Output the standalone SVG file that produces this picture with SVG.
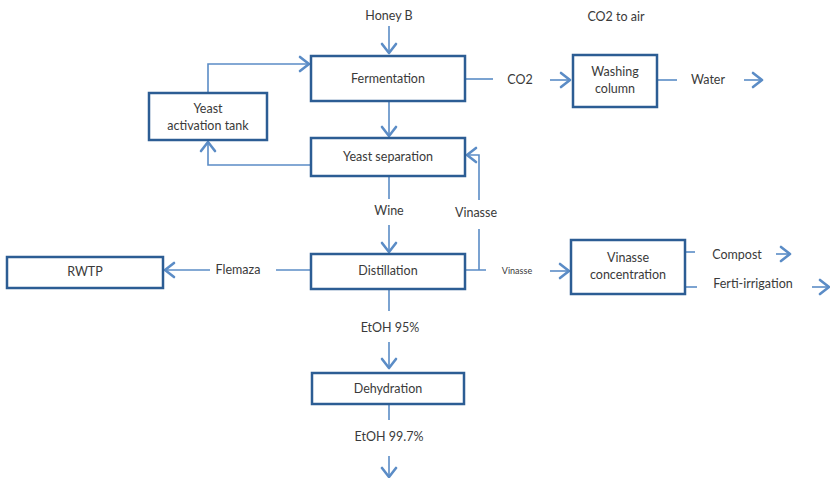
<svg xmlns="http://www.w3.org/2000/svg" width="830" height="478" viewBox="0 0 830 478">
<defs>
<marker id="ah" markerUnits="userSpaceOnUse" markerWidth="16" markerHeight="18" viewBox="0 0 16 18" refX="14" refY="9" orient="auto">
<path d="M5,2 L14,9 L5,16" fill="none" stroke="#5b8cc6" stroke-width="2.6" stroke-linecap="round" stroke-linejoin="round"/>
</marker>
<style>
.box{fill:#fff;stroke:#2c5d94;stroke-width:2.5}
.ln{fill:none;stroke:#5b8cc6;stroke-width:1.6}
.t{font-family:Lato,"Liberation Sans",sans-serif;font-size:12.5px;fill:#3a3a3a;text-anchor:middle}
.s{font-size:9px}
</style>
</defs>
<rect width="830" height="478" fill="#fff"/>
<g id="connectors">
<path class="ln" d="M389,26 V53" marker-end="url(#ah)"/>
<path class="ln" d="M208,93 V64 H309" marker-end="url(#ah)"/>
<path class="ln" d="M389,101 V136" marker-end="url(#ah)"/>
<path class="ln" d="M310,165 H208 V142" marker-end="url(#ah)"/>
<path class="ln" d="M479,200 V155 H467" marker-end="url(#ah)"/>
<path class="ln" d="M465,79 H493"/>
<path class="ln" d="M550,80 H570" marker-end="url(#ah)"/>
<path class="ln" d="M657,80 H677"/>
<path class="ln" d="M744,80 H762" marker-end="url(#ah)"/>
<path class="ln" d="M389,176 V199"/>
<path class="ln" d="M389,225 V252" marker-end="url(#ah)"/>
<path class="ln" d="M479,229 V270 M465,270 H486"/>
<path class="ln" d="M550,271 H569" marker-end="url(#ah)"/>
<path class="ln" d="M310,270 H276"/>
<path class="ln" d="M210,270 H165" marker-end="url(#ah)"/>
<path class="ln" d="M685,252 H695"/>
<path class="ln" d="M776,254 H790" marker-end="url(#ah)"/>
<path class="ln" d="M685,287 H697"/>
<path class="ln" d="M812,287 H829" marker-end="url(#ah)"/>
<path class="ln" d="M389,289 V311"/>
<path class="ln" d="M389,342 V368" marker-end="url(#ah)"/>
<path class="ln" d="M389,404 V420"/>
<path class="ln" d="M389,456 V477" marker-end="url(#ah)"/>
</g>
<g id="labels">
<text class="t" x="389" y="20">Honey B</text>
<text class="t" x="616" y="21">CO2 to air</text>
<text class="t" x="520" y="84">CO2</text>
<text class="t" x="708" y="84">Water</text>
<text class="t" x="389" y="215">Wine</text>
<text class="t" x="476" y="217">Vinasse</text>
<text class="t s" x="517" y="274">Vinasse</text>
<text class="t" x="238" y="274">Flemaza</text>
<text class="t" x="737" y="259">Compost</text>
<text class="t" x="753" y="288">Ferti-irrigation</text>
<text class="t" x="390" y="332">EtOH 95%</text>
<text class="t" x="389" y="441">EtOH 99.7%</text>
</g>
<g id="fermentation"><rect class="box" x="311" y="56" width="154" height="45"/><text class="t" x="388" y="83">Fermentation</text></g>
<g id="yeast-activation"><rect class="box" x="149" y="93" width="118" height="47"/><text class="t" x="208" y="113">Yeast</text><text class="t" x="208" y="130">activation tank</text></g>
<g id="yeast-separation"><rect class="box" x="311" y="138" width="154" height="38"/><text class="t" x="388" y="161">Yeast separation</text></g>
<g id="washing-column"><rect class="box" x="573" y="55" width="84" height="52"/><text class="t" x="615" y="76">Washing</text><text class="t" x="615" y="93">column</text></g>
<g id="distillation"><rect class="box" x="311" y="254" width="154" height="35"/><text class="t" x="388" y="275">Distillation</text></g>
<g id="rwtp"><rect class="box" x="7" y="257" width="156" height="31"/><text class="t" x="85" y="276">RWTP</text></g>
<g id="vinasse-concentration"><rect class="box" x="571" y="240" width="114" height="54"/><text class="t" x="628" y="262">Vinasse</text><text class="t" x="628" y="279">concentration</text></g>
<g id="dehydration"><rect class="box" x="312" y="373" width="152" height="31"/><text class="t" x="388" y="393">Dehydration</text></g>
</svg>
